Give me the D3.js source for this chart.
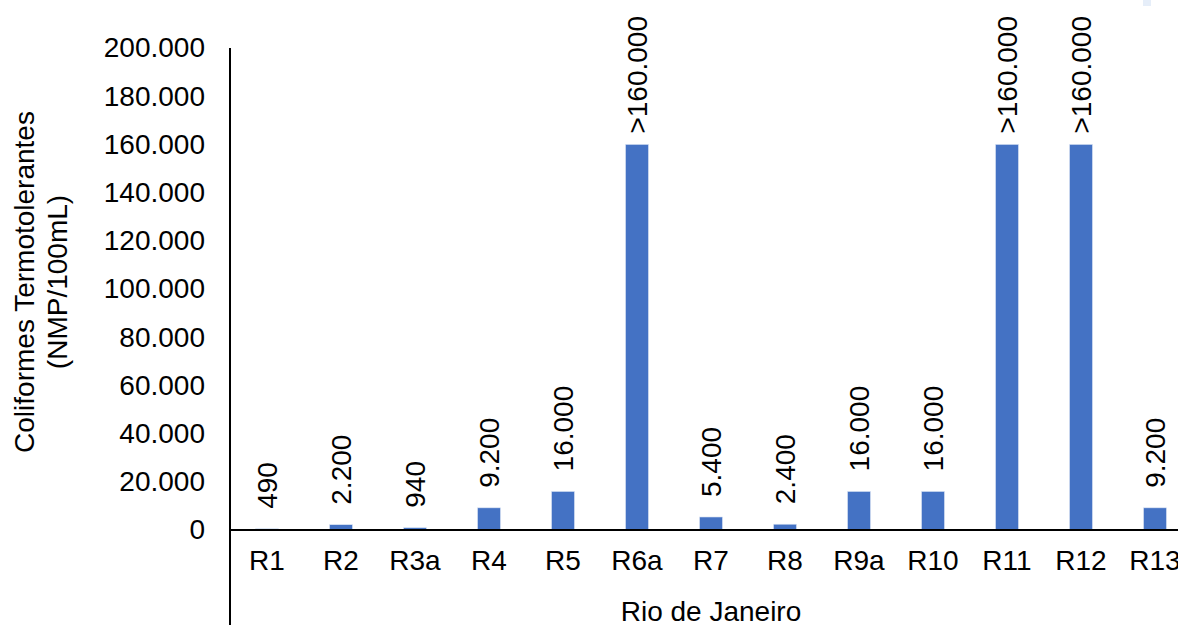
<!DOCTYPE html>
<html>
<head>
<meta charset="utf-8">
<script src="https://cdn.jsdelivr.net/npm/d3@7"></script>
<style>
  html, body { margin: 0; padding: 0; background: #fff; }
  svg { display: block; font-family: "Liberation Sans", Arial, sans-serif; }
</style>
</head>
<body>
<svg id="chart" width="1178" height="625"></svg>
<script>
const categories = ["R1","R2","R3a","R4","R5","R6a","R7","R8","R9a","R10","R11","R12","R13"];
const values = [490, 2200, 940, 9200, 16000, 160000, 5400, 2400, 16000, 16000, 160000, 160000, 9200];
const valueLabels = ["490","2.200","940","9.200","16.000",">160.000","5.400","2.400","16.000","16.000",">160.000",">160.000","9.200"];
const yTicks = [0, 20000, 40000, 60000, 80000, 100000, 120000, 140000, 160000, 180000, 200000];
const yTitle = ["Coliformes Termotolerantes", "(NMP/100mL)"];
const xTitle = "Rio de Janeiro";

(function () {
const svg = d3.select("#chart");
const W = 1178, H = 625;
const mLeft = 230, mRight = 1192, mTop = 48, mBottom = 530;
const fs = 28;

const locale = d3.formatLocale({decimal: ",", thousands: ".", grouping: [3], currency: ["", ""]});
const fmt = locale.format(",");

const x = d3.scaleBand().domain(categories).range([mLeft, mRight]).paddingInner(0.69).paddingOuter(0.345);
const y = d3.scaleLinear().domain([0, 200000]).range([mBottom, mTop]);

// small decoration at top right (page artifact)
svg.append("rect").attr("x", 1143).attr("y", 0).attr("width", 8).attr("height", 6).attr("fill", "#e6eef9");

// bars
svg.append("g").selectAll("rect").data(values).join("rect")
  .attr("x", (d, i) => x(categories[i]))
  .attr("width", x.bandwidth())
  .attr("y", d => y(d))
  .attr("height", d => mBottom - y(d))
  .attr("fill", "#4472C4")
  .attr("stroke", "#dbe4f3")
  .attr("stroke-width", 0.6);

// y axis
const yAxis = svg.append("g").attr("transform", `translate(${mLeft},0)`)
  .call(d3.axisLeft(y).tickValues(yTicks).tickFormat(fmt).tickSize(0).tickPadding(25));
yAxis.select(".domain").remove();
yAxis.selectAll("text").attr("font-size", fs).attr("fill", "#000").attr("font-family", "Liberation Sans, Arial, sans-serif");

// x axis
const xAxis = svg.append("g").attr("transform", `translate(0,${mBottom})`)
  .call(d3.axisBottom(x).tickSize(0).tickPadding(20));
xAxis.select(".domain").remove();
xAxis.selectAll("text").attr("font-size", fs).attr("fill", "#000").attr("font-family", "Liberation Sans, Arial, sans-serif");

// axis lines
svg.append("line").attr("x1", mLeft).attr("x2", W).attr("y1", mBottom).attr("y2", mBottom)
  .attr("stroke", "#000").attr("stroke-width", 2);
svg.append("line").attr("x1", mLeft).attr("x2", mLeft).attr("y1", mTop).attr("y2", H)
  .attr("stroke", "#000").attr("stroke-width", 2);

// value labels
const lbl = svg.append("g").selectAll("text").data(values).join("text")
  .attr("font-size", fs).attr("fill", "#000")
  .attr("text-anchor", "start")
  .attr("dy", "0.35em")
  .text((d, i) => valueLabels[i]);
lbl.each(function(d, i) {
  const len = this.getComputedTextLength();
  let start = y(d) - 20;
  if (start - len < 16) start = 16 + len;
  const cx = x(categories[i]) + x.bandwidth() / 2;
  d3.select(this).attr("transform", `translate(${cx},${start}) rotate(-90)`);
});

// y title
const yt = svg.append("text").attr("transform", "translate(0,282) rotate(-90)")
  .attr("text-anchor", "middle").attr("font-size", fs).attr("fill", "#000");
yt.append("tspan").attr("x", 0).attr("y", 34).text(yTitle[0]);
yt.append("tspan").attr("x", 0).attr("y", 67).text(yTitle[1]);

// x title
svg.append("text").attr("x", (mLeft + mRight) / 2).attr("y", 621)
  .attr("text-anchor", "middle").attr("font-size", fs).attr("fill", "#000").text(xTitle);
})();
</script>
</body>
</html>
